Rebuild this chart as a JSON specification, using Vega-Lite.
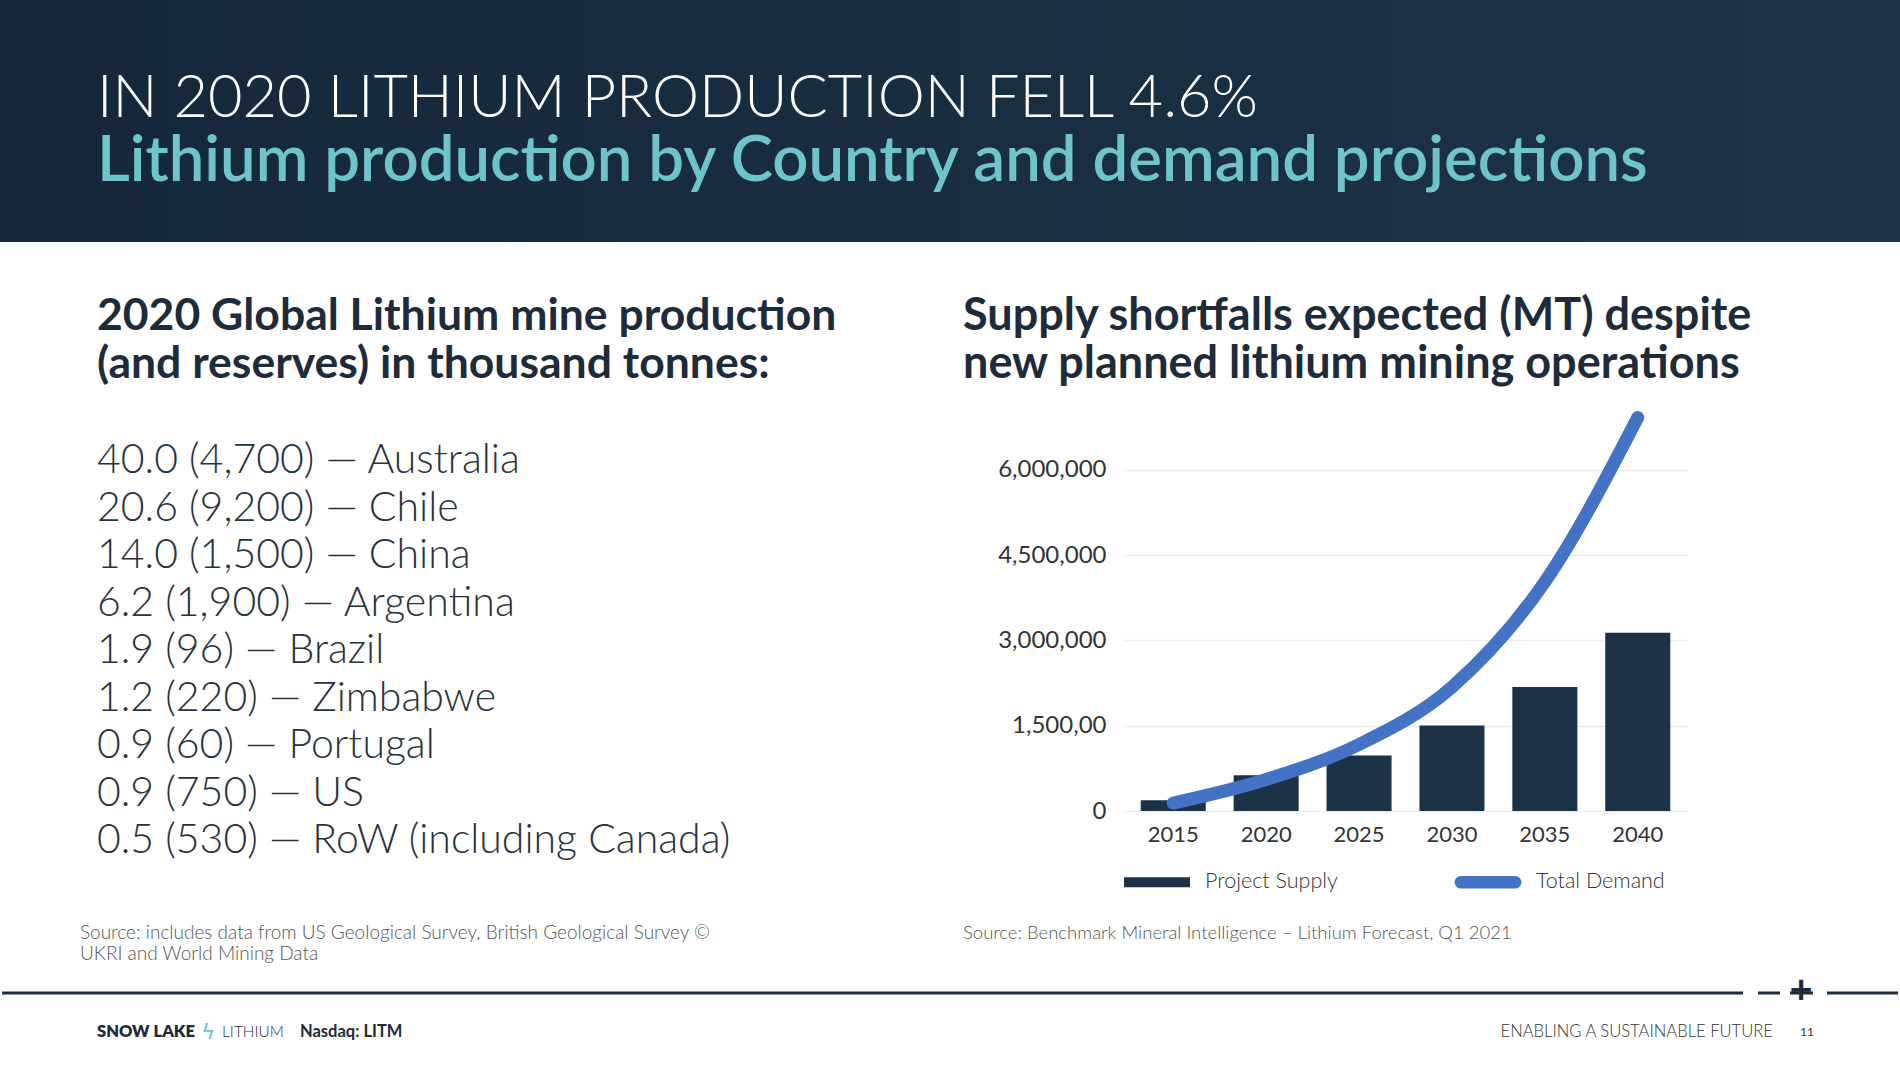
{
  "$schema": "https://vega.github.io/schema/vega-lite/v6.json",
  "background": "#ffffff",
  "padding": 0,
  "spacing": 0,
  "config": {"view": {"stroke": null}, "font": "Lato", "concat": {"spacing": 0}},
  "resolve": {"scale": {"color": "independent"}, "legend": {"color": "independent"}},
  "vconcat": [
    {
      "width": 1900,
      "height": 242,
      "data": {"values": [
        {"line": "kicker", "text": "IN 2020 LITHIUM PRODUCTION FELL 4.6%"},
        {"line": "headline", "text": "Lithium production by Country and demand projections"}
      ]},
      "layer": [
        {
          "data": {"values": [{"band": "header"}]},
          "mark": {"type": "rect", "color": {"gradient": "linear", "x1": 0, "y1": 0, "x2": 1, "y2": 0, "stops": [{"offset": 0, "color": "#16273a"}, {"offset": 1, "color": "#1d3348"}]}},
          "encoding": {}
        },
        {
          "transform": [{"filter": "datum.line === 'kicker'"}],
          "mark": {"type": "text", "align": "left", "baseline": "alphabetic", "font": "Lato", "fontSize": 59.5, "fontWeight": 300, "color": "#ffffff", "dx": 97},
          "encoding": {
            "x": {"value": 0},
            "y": {"field": "line", "type": "nominal", "scale": {"type": "point", "domain": ["kicker", "headline"], "range": [117, 181], "padding": 0}, "axis": null},
            "text": {"field": "text"}
          }
        },
        {
          "transform": [{"filter": "datum.line === 'headline'"}],
          "mark": {"type": "text", "align": "left", "baseline": "alphabetic", "font": "Lato", "fontSize": 63.5, "fontWeight": 600, "color": "#6fc4cb", "dx": 97},
          "encoding": {
            "x": {"value": 0},
            "y": {"field": "line", "type": "nominal", "scale": {"type": "point", "domain": ["kicker", "headline"], "range": [117, 181], "padding": 0}, "axis": null},
            "text": {"field": "text"}
          }
        }
      ]
    },
    {
      "hconcat": [
        {
          "width": 963,
          "height": 163,
          "data": {"values": [
            {"line": 1, "text": "2020 Global Lithium mine production"},
            {"line": 2, "text": "(and reserves) in thousand tonnes:"}
          ]},
          "mark": {"type": "text", "align": "left", "baseline": "alphabetic", "font": "Lato", "fontSize": 44.5, "fontWeight": 700, "color": "#1d2b3a", "dx": 97},
          "encoding": {
            "x": {"value": 0},
            "y": {"field": "line", "type": "ordinal", "scale": {"type": "point", "range": [88, 136], "padding": 0}, "axis": null},
            "text": {"field": "text"}
          }
        },
        {
          "width": 937,
          "height": 163,
          "data": {"values": [
            {"line": 1, "text": "Supply shortfalls expected (MT) despite"},
            {"line": 2, "text": "new planned lithium mining operations"}
          ]},
          "mark": {"type": "text", "align": "left", "baseline": "alphabetic", "font": "Lato", "fontSize": 45, "fontWeight": 700, "color": "#1d2b3a"},
          "encoding": {
            "x": {"value": 0},
            "y": {"field": "line", "type": "ordinal", "scale": {"type": "point", "range": [88, 136], "padding": 0}, "axis": null},
            "text": {"field": "text"}
          }
        }
      ]
    },
    {
      "resolve": {"scale": {"color": "independent"}, "legend": {"color": "independent"}},
      "hconcat": [
        {
          "width": 963,
          "height": 500,
          "data": {"values": [
            {"country": "Australia", "production": 40.0, "reserves": 4700, "label": "40.0 (4,700) — Australia"},
            {"country": "Chile", "production": 20.6, "reserves": 9200, "label": "20.6 (9,200) — Chile"},
            {"country": "China", "production": 14.0, "reserves": 1500, "label": "14.0 (1,500) — China"},
            {"country": "Argentina", "production": 6.2, "reserves": 1900, "label": "6.2 (1,900) — Argentina"},
            {"country": "Brazil", "production": 1.9, "reserves": 96, "label": "1.9 (96) — Brazil"},
            {"country": "Zimbabwe", "production": 1.2, "reserves": 220, "label": "1.2 (220) — Zimbabwe"},
            {"country": "Portugal", "production": 0.9, "reserves": 60, "label": "0.9 (60) — Portugal"},
            {"country": "US", "production": 0.9, "reserves": 750, "label": "0.9 (750) — US"},
            {"country": "RoW (including Canada)", "production": 0.5, "reserves": 530, "label": "0.5 (530) — RoW (including Canada)"}
          ]},
          "mark": {"type": "text", "align": "left", "baseline": "alphabetic", "font": "Lato", "fontSize": 41, "fontWeight": 300, "color": "#28323d", "dx": 97},
          "encoding": {
            "x": {"value": 0},
            "y": {"field": "country", "type": "nominal", "sort": null, "scale": {"type": "point", "range": [68, 448], "padding": 0}, "axis": null},
            "text": {"field": "label"}
          }
        },
        {
          "width": 563,
          "height": 406,
          "data": {"values": [
            {"year": "2015", "supply": 190000, "demand": 140000},
            {"year": "2020", "supply": 630000, "demand": 555000},
            {"year": "2025", "supply": 975000, "demand": 1170000},
            {"year": "2030", "supply": 1505000, "demand": 2180000},
            {"year": "2035", "supply": 2180000, "demand": 4030000},
            {"year": "2040", "supply": 3135000, "demand": 6920000}
          ]},
          "encoding": {
            "x": {
              "field": "year", "type": "ordinal",
              "scale": {"paddingInner": 0.3, "paddingOuter": 0.18},
              "axis": {
                "title": null, "domain": false, "ticks": false, "labelAngle": 0, "labelFontSize": 22, "labelColor": "#333333", "labelPadding": 13, "labelFont": "Lato",
                "encode": {"labels": {"update": {"dx": {"signal": "11 - 3.4 * indexof(['2015','2020','2025','2030','2035','2040'], datum.value)"}}}}
              }
            }
          },
          "layer": [
            {
              "mark": {"type": "bar"},
              "encoding": {
                "y": {
                  "field": "supply", "type": "quantitative",
                  "scale": {"domain": [0, 7140000], "nice": false},
                  "axis": {
                    "title": null, "domain": false, "ticks": false, "values": [0, 1500000, 3000000, 4500000, 6000000], "labelExpr": "datum.value === 1500000 ? '1,500,00' : format(datum.value, ',')", "labelFontSize": 24, "labelColor": "#333333", "labelPadding": 18, "labelFont": "Lato", "gridColor": "#ececec", "gridWidth": 1.5, "minExtent": 161,
                    "encode": {"labels": {"update": {"dy": {"signal": "datum.value === 0 ? 4 : 0"}}}}
                  }
                },
                "color": {
                  "datum": "Project Supply",
                  "scale": {"domain": ["Project Supply", "Total Demand"], "range": ["#1b3247", "#4472c4"]},
                  "legend": {
                    "orient": "bottom",
                    "direction": "horizontal",
                    "title": null,
                    "symbolType": "M-1,-0.16H1V0.16H-1Z",
                    "symbolSize": 4356,
                    "labelFontSize": 21.5,
                    "labelFont": "Lato",
                    "labelFontWeight": 300,
                    "labelColor": "#333333",
                    "labelOffset": 15,
                    "columnPadding": 116,
                    "offset": 4,
                    "encode": {
                      "symbols": {
                        "update": {
                          "shape": {"signal": "datum.value === 'Total Demand' ? 'M-0.82,-0.19H0.82A0.19,0.19 0 0 1 0.82,0.19H-0.82A0.19,0.19 0 0 1 -0.82,-0.19Z' : 'M-1,-0.15H1V0.15H-1Z'"},
                          "fill": {"signal": "datum.value === 'Total Demand' ? '#4472c4' : '#1b3247'"},
                          "stroke": {"value": "transparent"},
                          "strokeWidth": {"value": 0},
                          "opacity": {"value": 1}
                        }
                      }
                    }
                  }
                }
              }
            },
            {
              "mark": {"type": "line", "strokeWidth": 13, "strokeCap": "round", "strokeJoin": "round", "interpolate": "monotone"},
              "encoding": {
                "y": {"field": "demand", "type": "quantitative"},
                "color": {"datum": "Total Demand"}
              }
            }
          ]
        }
      ]
    },
    {
      "hconcat": [
        {
          "width": 963,
          "height": 66,
          "data": {"values": [
            {"line": 1, "text": "Source: includes data from US Geological Survey, British Geological Survey ©"},
            {"line": 2, "text": "UKRI and World Mining Data"}
          ]},
          "mark": {"type": "text", "align": "left", "baseline": "middle", "font": "Lato", "fontSize": 19, "fontWeight": 300, "color": "#555555", "dx": 80},
          "encoding": {
            "x": {"value": 0},
            "y": {"field": "line", "type": "ordinal", "scale": {"type": "point", "range": [28, 49], "padding": 0}, "axis": null},
            "text": {"field": "text"}
          }
        },
        {
          "width": 937,
          "height": 66,
          "data": {"values": [
            {"line": 1, "text": "Source: Benchmark Mineral Intelligence – Lithium Forecast, Q1 2021"}
          ]},
          "mark": {"type": "text", "align": "left", "baseline": "middle", "font": "Lato", "fontSize": 18.5, "fontWeight": 300, "color": "#555555"},
          "encoding": {
            "x": {"value": 0},
            "y": {"field": "line", "type": "ordinal", "scale": {"type": "point", "range": [28, 28], "padding": 0}, "axis": null},
            "text": {"field": "text"}
          }
        }
      ]
    },
    {
      "width": 1900,
      "height": 74,
      "data": {"values": [
        {"part": "brand", "text": "SNOW LAKE"},
        {"part": "bolt", "text": "ϟ"},
        {"part": "lithium", "text": "LITHIUM"},
        {"part": "ticker", "text": "Nasdaq: LITM"},
        {"part": "tagline", "text": "ENABLING A SUSTAINABLE FUTURE"},
        {"part": "page", "text": "11"}
      ]},
      "layer": [
        {
          "data": {"values": [{"rule": "footer"}]},
          "mark": {"type": "rule", "color": "#1d2b3a", "strokeWidth": 3, "strokeDash": [1741, 15, 22, 10, 23, 14, 200]},
          "encoding": {"x": {"value": 2}, "x2": {"value": 1898}, "y": {"value": 0}}
        },
        {
          "data": {"values": [{"mark": "plus"}]},
          "mark": {"type": "text", "text": "+", "align": "center", "baseline": "middle", "font": "Lato", "fontSize": 40, "fontWeight": 700, "color": "#1d2b3a", "dx": 1801, "dy": -2},
          "encoding": {"x": {"value": 0}, "y": {"value": 0}}
        },
        {
          "transform": [{"filter": "datum.part === 'brand'"}],
          "mark": {"type": "text", "align": "left", "baseline": "middle", "font": "Lato", "fontSize": 16.5, "fontWeight": 800, "color": "#1d2b3a", "dx": 97, "dy": 2},
          "encoding": {"x": {"value": 0}, "text": {"field": "text"}}
        },
        {
          "transform": [{"filter": "datum.part === 'bolt'"}],
          "mark": {"type": "text", "align": "left", "baseline": "middle", "font": "DejaVu Sans", "fontSize": 22, "color": "#6fc4cb", "dx": 201, "dy": 2},
          "encoding": {"x": {"value": 0}, "text": {"field": "text"}}
        },
        {
          "transform": [{"filter": "datum.part === 'lithium'"}],
          "mark": {"type": "text", "align": "left", "baseline": "middle", "font": "Lato", "fontSize": 15.5, "fontWeight": 300, "color": "#1d2b3a", "dx": 222, "dy": 2},
          "encoding": {"x": {"value": 0}, "text": {"field": "text"}}
        },
        {
          "transform": [{"filter": "datum.part === 'ticker'"}],
          "mark": {"type": "text", "align": "left", "baseline": "middle", "font": "Lato", "fontSize": 16.5, "fontWeight": 700, "color": "#1d2b3a", "dx": 300, "dy": 2},
          "encoding": {"x": {"value": 0}, "text": {"field": "text"}}
        },
        {
          "transform": [{"filter": "datum.part === 'tagline'"}],
          "mark": {"type": "text", "align": "right", "baseline": "middle", "font": "Lato", "fontSize": 16.6, "fontWeight": 300, "color": "#333333", "dx": 1773, "dy": 2},
          "encoding": {"x": {"value": 0}, "text": {"field": "text"}}
        },
        {
          "transform": [{"filter": "datum.part === 'page'"}],
          "mark": {"type": "text", "align": "center", "baseline": "middle", "font": "Lato", "fontSize": 12, "fontWeight": 400, "color": "#333333", "dx": 1807, "dy": 2},
          "encoding": {"x": {"value": 0}, "text": {"field": "text"}}
        }
      ]
    }
  ]
}
